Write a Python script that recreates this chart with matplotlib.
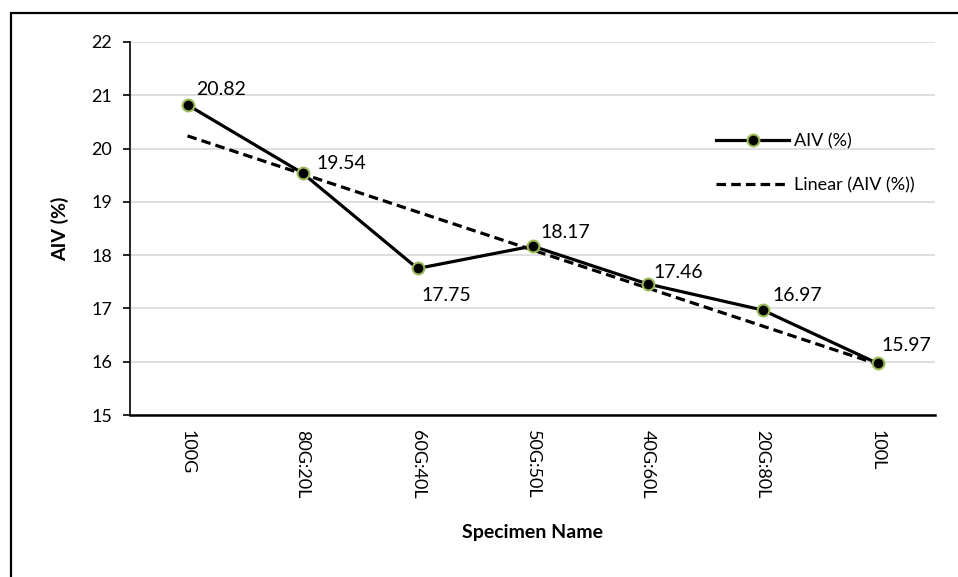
import numpy as np
import matplotlib.pyplot as plt
from matplotlib.patches import Rectangle

# data
specimens = ['100G', '80G:20L', '60G:40L', '50G:50L', '40G:60L', '20G:80L', '100L']
aiv = [20.82, 19.54, 17.75, 18.17, 17.46, 16.97, 15.97]
label_offsets = [(6, 5), (10, 1), (3, -13), (6, 4), (4, 2), (7, 4), (3, 7)]
yticks = [15, 16, 17, 18, 19, 20, 21, 22]

plt.rcParams['font.family'] = ['Lato', 'DejaVu Sans']

fig = plt.figure(figsize=(9.58, 5.77), dpi=100)
ax = fig.add_axes([130/958, 1 - 415/577, 805/958, 373/577])

x = np.arange(len(specimens))
ax.plot(x, aiv, color='black', lw=2.3, marker='o', ms=8.5,
        mfc='black', mec='#9BBB59', mew=1.5, label='AIV (%)', zorder=3)

# linear trendline, like excel
k, b = np.polyfit(x, aiv, 1)
ax.plot(x, k * x + b, color='black', lw=2.3, ls=(0, (3, 1.6)),
        label='Linear (AIV (%))', zorder=2)

for xi, v, off in zip(x, aiv, label_offsets):
    ax.annotate(f'{v:.2f}', (xi, v), xytext=off, textcoords='offset points',
                fontsize=14, ha='left', va='bottom' if off[1] >= 0 else 'top')

ax.set_xlim(-0.5, len(specimens) - 0.5)
ax.set_ylim(15, 22)
ax.set_yticks(yticks)
ax.set_xticks(x)
ax.set_xticklabels(specimens, rotation=270, fontsize=13)
ax.tick_params(axis='y', labelsize=13, length=5, width=1.2, pad=8)
ax.tick_params(axis='x', length=0, pad=11)
ax.grid(axis='y', color='#d9d9d9', lw=1.2)
ax.set_axisbelow(True)
for s in ['top', 'right']:
    ax.spines[s].set_visible(False)
ax.spines['left'].set_linewidth(1.2)
ax.spines['bottom'].set_linewidth(1.8)

ax.set_ylabel('AIV (%)', fontsize=14, fontweight='bold', labelpad=16)
ax.set_xlabel('Specimen Name', fontsize=14, fontweight='bold', labelpad=18)

ax.legend(loc='upper right', bbox_to_anchor=(0.995, 0.8), frameon=False,
          fontsize=13, handlelength=4, labelspacing=1.55, handletextpad=0.3)

# outer border of the chart area
fig.patches.append(Rectangle((11/958, -0.1), 1.0, 1 - 13/577 + 0.1,
                             transform=fig.transFigure, fill=False,
                             ec='black', lw=1.6))

fig.savefig('out.png', dpi=100)
